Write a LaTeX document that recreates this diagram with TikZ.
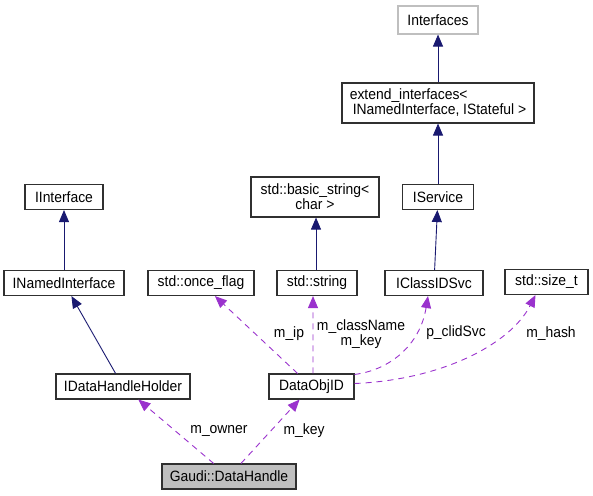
\documentclass[tikz,border=0pt]{standalone}
\usepackage{fontspec}
\setmainfont{Liberation Sans}[FakeStretch=0.93]
\usepackage{tikz}
\usetikzlibrary{arrows.meta}
\usetikzlibrary{positioning}

\definecolor{inhblue}{HTML}{191970}
\definecolor{usepurple}{HTML}{9A32CD}
\definecolor{undoc}{HTML}{BFBFBF}
\definecolor{border}{HTML}{303030}

\begin{document}
\begin{tikzpicture}[x=1bp,y=-1bp,
    cls/.style={draw=border, line width=1.1bp, inner sep=2pt, minimum height=25bp,
      font=\fontsize{15}{15}\selectfont},
    inh/.style={-{Triangle[length=12bp,width=10bp]}, color=inhblue, line width=0.9bp},
    use/.style={-{Triangle[length=12bp,width=10bp]}, color=usepurple, line width=0.9bp,
      dash pattern=on 6bp off 5bp},
    lbl/.style={font=\fontsize{15}{15}\selectfont, align=center, inner sep=0pt}]
      \useasboundingbox (0,0) rectangle (593,496);

      \node[cls, draw=undoc, minimum width=80bp, minimum height=28bp] (ifaces) at (438,20) {Interfaces};
      \node[cls, minimum width=192bp, minimum height=40bp, align=left] (extif) at (438,103)
        {extend\_interfaces<\\\hspace*{3bp}INamedInterface, IStateful >};

      \node[cls, minimum width=78bp] (iiface) at (64,197) {IInterface};
      \node[cls, minimum width=128bp, minimum height=40bp, align=center] (bstr) at (315,197) {std::basic\_string<\\char >};
      \node[cls, minimum width=71bp] (isvc) at (438,197) {IService};

      \node[cls, minimum width=120bp] (inamed) at (64,283) {INamedInterface};
      \node[cls, minimum width=106bp] (once) at (201,283) {std::once\_flag};
      \node[cls, minimum width=80bp] (str) at (317,283) {std::string};
      \node[cls, minimum width=98bp] (iclid) at (434,283) {IClassIDSvc};
      \node[cls, minimum width=83bp] (sizet) at (546.5,282) {std::size\_t};

      \node[cls, minimum width=134bp] (dhh) at (123,386.5) {IDataHandleHolder};
      \node[cls, minimum width=85bp] (doid) at (311.5,386.5) {DataObjID};

      \node[cls, fill=undoc, minimum width=134bp] (dh) at (229,476.5) {Gaudi::DataHandle};

      % inheritance
      \draw[inh] (extif) -- (ifaces);
      \draw[inh] (isvc) -- (extif);
      \draw[inh] (inamed) -- (iiface);
      \draw[inh] ([xshift=-1bp]str.north) -- ([xshift=1bp]bstr.south);
      \draw[inh] (iclid) -- (isvc);
      \draw[inh] (dhh) -- (inamed);

      % usage
      \draw[use] (dh) -- (dhh);
      \draw[use] (dh) -- (doid);
      \draw[use] (doid) -- (once);
      \draw[use] ([xshift=1.5bp]doid.north) -- ([xshift=-4bp]str.south);
      \draw[use] ([yshift=-1bp]doid.north east) .. controls (390,370) and (420,345) .. ([xshift=-6bp]iclid.south);
      \draw[use] ([yshift=3bp]doid.east) .. controls (440,380) and (510,345) .. ([xshift=-11bp]sizet.south);

      \node[lbl] (lowner) at (219,431) {m\_owner};
      \node[lbl] (lkey) at (304,431) {m\_key};
      \node[lbl] (lip) at (289,334) {m\_ip};
      \node[lbl] (lname) at (361,334) {m\_className\\m\_key};
      \node[lbl] (lclid) at (456,333) {p\_clidSvc};
      \node[lbl] (lhash) at (551,334) {m\_hash};
    \end{tikzpicture}
\end{document}
